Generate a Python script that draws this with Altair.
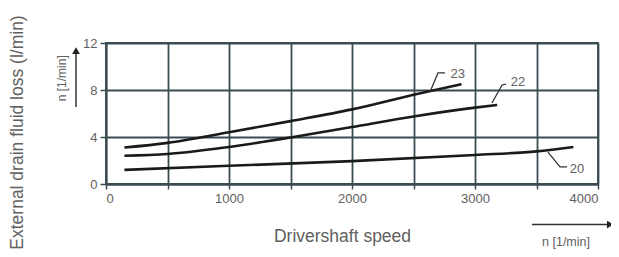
import altair as alt
import pandas as pd

# Curve data (speed in 1/min, loss in l/min)
c23_x = [150, 500, 1000, 1500, 2000, 2500, 2890]
c23_y = [3.1, 3.5, 4.4, 5.35, 6.35, 7.6, 8.5]
c22_x = [150, 500, 1000, 1500, 2000, 2500, 3000, 3180]
c22_y = [2.4, 2.55, 3.15, 3.95, 4.85, 5.75, 6.5, 6.72]
c20_x = [150, 1000, 2000, 3000, 3500, 3800]
c20_y = [1.2, 1.55, 1.95, 2.47, 2.78, 3.15]

curve_names = ["23", "22", "20"]

# leader lines for curve labels (data coordinates)
lead_x = {"23": [2634, 2699, 2756], "22": [3138, 3220, 3252], "20": [3593, 3691, 3748]}
lead_y = {"23": [7.83, 9.45, 9.45], "22": [6.89, 8.43, 8.51], "20": [2.72, 1.45, 1.45]}
label_x = [2800, 3290, 3770]
label_y = [9.4, 8.68, 1.3]

x_ticks = [0, 500, 1000, 1500, 2000, 2500, 3000, 3500, 4000]
y_ticks = [0, 4, 8, 12]

GRID = "#3a4c52"
TXT = "#606060"
FONT = "Liberation Sans"

rows = []
for name, xs, ys in [("23", c23_x, c23_y), ("22", c22_x, c22_y), ("20", c20_x, c20_y)]:
    for i, (a, b) in enumerate(zip(xs, ys)):
        rows.append({"curve": name, "speed": a, "loss": b, "i": i})
curves = pd.DataFrame(rows)

lrows = []
for name in curve_names:
    for i, (a, b) in enumerate(zip(lead_x[name], lead_y[name])):
        lrows.append({"curve": name, "speed": a, "loss": b, "i": i})
leads = pd.DataFrame(lrows)

labels = pd.DataFrame({"speed": label_x, "loss": label_y, "text": curve_names})

xs = alt.Scale(domain=[0, 4000], nice=False)
ys = alt.Scale(domain=[0, 12], nice=False)

base_x = alt.X("speed:Q", scale=xs,
               axis=alt.Axis(values=x_ticks, grid=True,
                             labelExpr="datum.value % 1000 == 0 ? datum.label : ''",
                             format="d",
                             title="Drivershaft speed", titleX=236, titleY=52,
                             titleBaseline="middle", titleAlign="center",
                             titleFontSize=17.5, titleFontWeight="normal",
                             titleColor=TXT, titleFont=FONT,
                             labelFontSize=13, labelColor=TXT, labelFont=FONT,
                             labelPadding=3, tickSize=5))
base_y = alt.Y("loss:Q", scale=ys,
               axis=alt.Axis(values=y_ticks, grid=True,
                             title="External drain fluid loss (l/min)",
                             titleX=-89, titleY=89, titleAngle=-90,
                             titleBaseline="middle", titleAlign="center",
                             titleFontSize=17.5, titleFontWeight="normal",
                             titleColor=TXT, titleFont=FONT,
                             labelFontSize=13, labelColor=TXT, labelFont=FONT,
                             labelPadding=3, tickSize=6))

lines = alt.Chart(curves).mark_line(color="#1a1a1a", strokeWidth=2.6,
                                    interpolate="monotone").encode(
    x=base_x, y=base_y, detail="curve:N", order="i:Q")

leaders = alt.Chart(leads).mark_line(color="#333333", strokeWidth=1.3).encode(
    x=alt.X("speed:Q", scale=xs), y=alt.Y("loss:Q", scale=ys),
    detail="curve:N", order="i:Q")

texts = alt.Chart(labels).mark_text(align="left", baseline="middle", fontSize=13,
                                    color=TXT, font=FONT).encode(
    x=alt.X("speed:Q", scale=xs), y=alt.Y("loss:Q", scale=ys), text="text:N")

# unit arrows and labels
arr_h = pd.DataFrame({"speed": [3463], "speed2": [4080], "loss": [-3.45]})
arr_h_line = alt.Chart(arr_h).mark_rule(color="#333333", strokeWidth=1.5).encode(
    x=alt.X("speed:Q", scale=xs), x2="speed2:Q", y=alt.Y("loss:Q", scale=ys))
arr_h_head = alt.Chart(pd.DataFrame({"speed": [4100], "loss": [-3.45]})).mark_point(
    shape="triangle-right", filled=True, size=60, color="#222222", opacity=1).encode(
    x=alt.X("speed:Q", scale=xs), y=alt.Y("loss:Q", scale=ys))
arr_h_text = alt.Chart(pd.DataFrame({"speed": [3740], "loss": [-4.95], "t": ["n  [1/min]"]})).mark_text(
    fontSize=12.5, color=TXT, font=FONT, baseline="middle").encode(
    x=alt.X("speed:Q", scale=xs), y=alt.Y("loss:Q", scale=ys), text="t:N")

arr_v = pd.DataFrame({"speed": [-244], "loss": [6.55], "loss2": [11.2]})
arr_v_line = alt.Chart(arr_v).mark_rule(color="#333333", strokeWidth=1.5).encode(
    x=alt.X("speed:Q", scale=xs), y=alt.Y("loss:Q", scale=ys), y2="loss2:Q")
arr_v_head = alt.Chart(pd.DataFrame({"speed": [-244], "loss": [11.35]})).mark_point(
    shape="triangle-up", filled=True, size=60, color="#222222", opacity=1).encode(
    x=alt.X("speed:Q", scale=xs), y=alt.Y("loss:Q", scale=ys))
arr_v_text = alt.Chart(pd.DataFrame({"speed": [-355], "loss": [9.0], "t": ["n  [1/min]"]})).mark_text(
    fontSize=12, color=TXT, font=FONT, baseline="middle", angle=270).encode(
    x=alt.X("speed:Q", scale=xs), y=alt.Y("loss:Q", scale=ys), text="t:N")

chart = alt.layer(lines, leaders, texts, arr_h_line, arr_h_head, arr_h_text,
                  arr_v_line, arr_v_head, arr_v_text).properties(
    width=492, height=141,
    autosize=alt.AutoSizeParams(type="none"),
    padding={"left": 98, "top": 35, "right": 13, "bottom": 65},
    background="white",
).configure_view(stroke=GRID, strokeWidth=1.8).configure_axis(
    gridColor=GRID, gridWidth=1.8, gridOpacity=1,
    domainColor=GRID, domainWidth=1.8, tickColor=GRID, tickWidth=1.5,
)

chart.save("out.html", embed_options={"renderer": "svg", "actions": False})
